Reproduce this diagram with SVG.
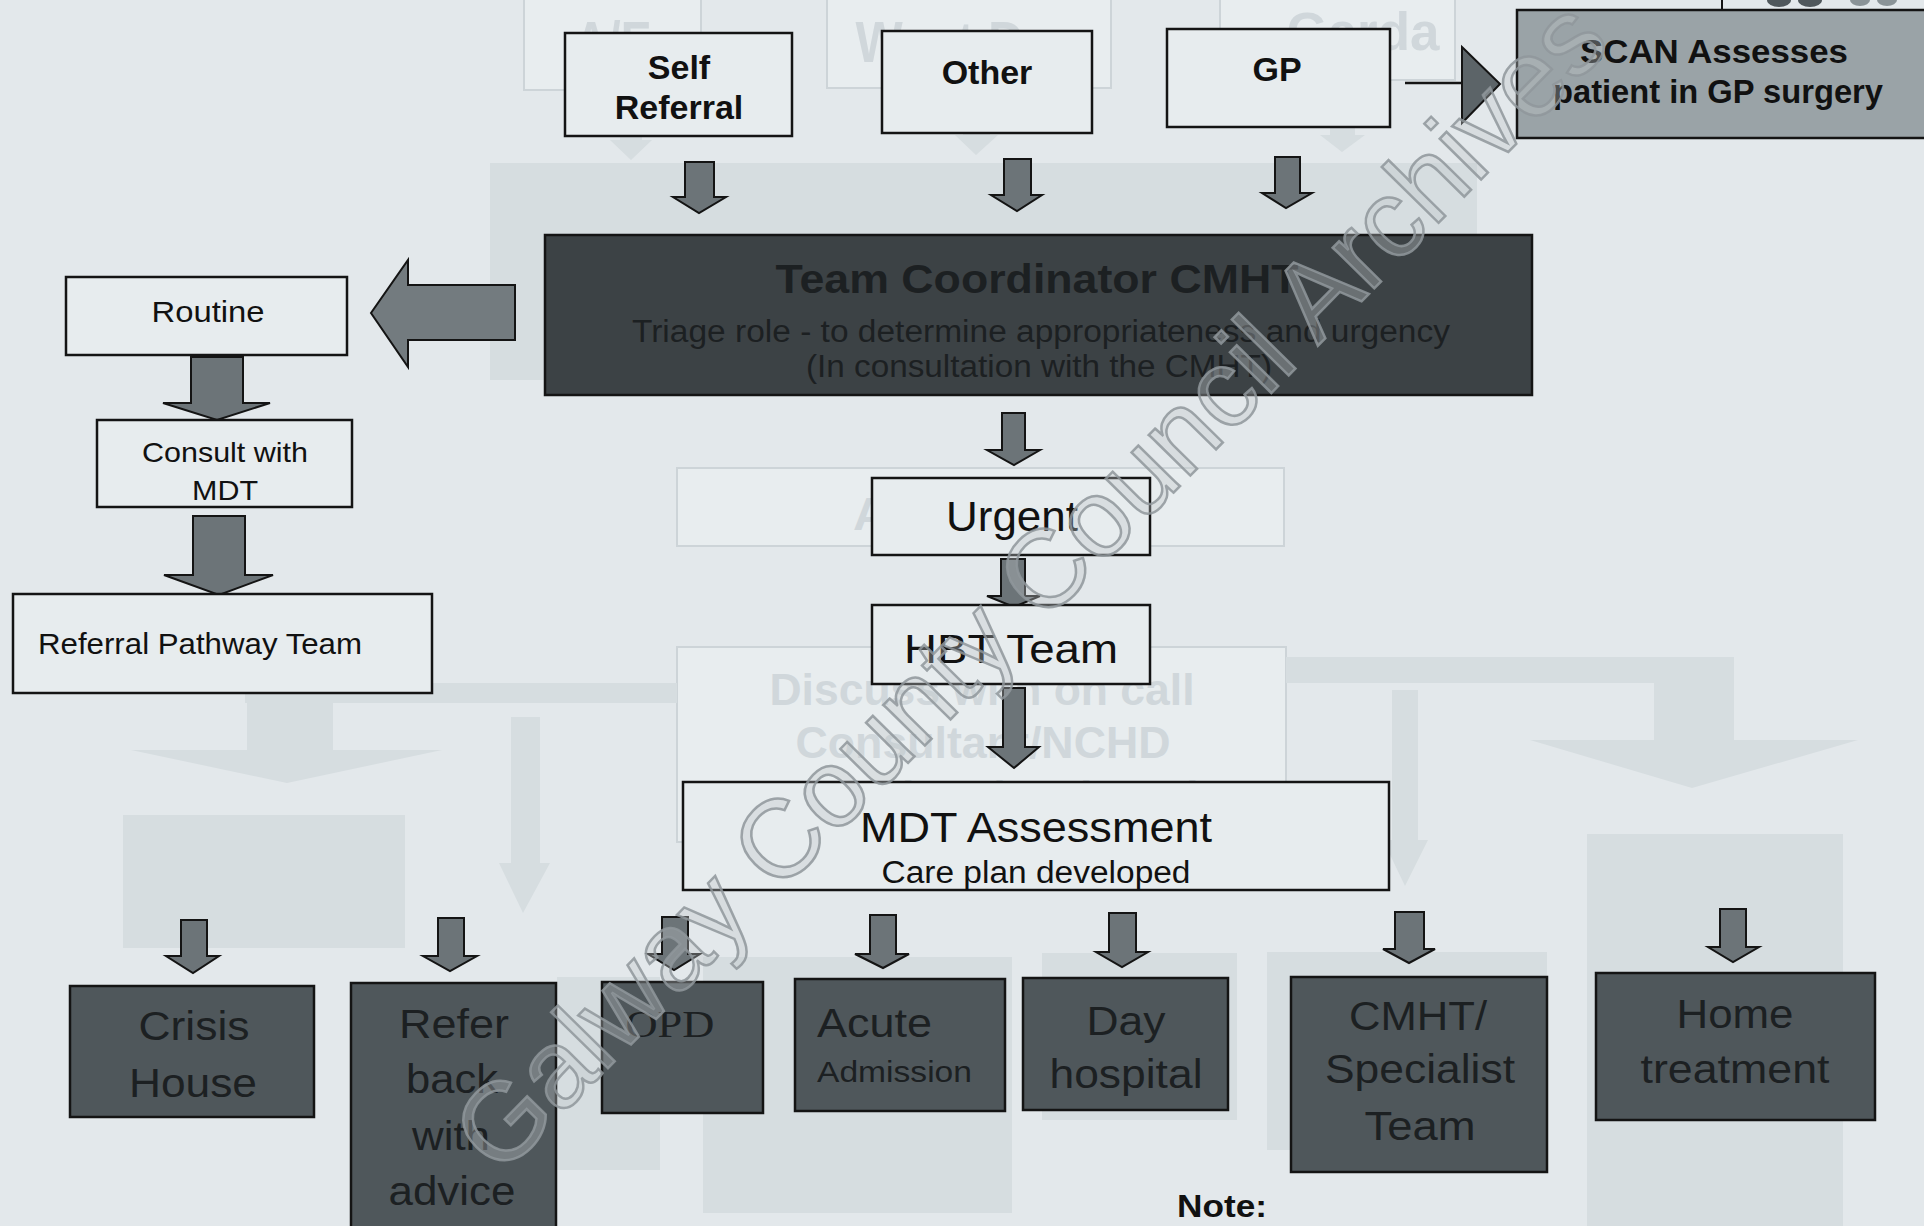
<svg xmlns="http://www.w3.org/2000/svg" width="1924" height="1226" viewBox="0 0 1924 1226">
<style>
.ghost{fill:#d6dde0}
.gbox{fill:#e8edef;stroke:#cdd4d8;stroke-width:2}
.gt{font-family:"Liberation Sans",Arial,sans-serif;font-weight:bold;fill:#d0d7db;text-anchor:middle}
.box{fill:#e7ecee;stroke:#141414;stroke-width:2.5}
.dark{fill:#4f575b;stroke:#141414;stroke-width:2.5}
.team{fill:#3c4245;stroke:#141414;stroke-width:2.5}
.scan{fill:#9aa3a7;stroke:#141414;stroke-width:2.5}
.arr{fill:#6c7478;stroke:#141414;stroke-width:2}
.t{font-family:"Liberation Sans",Arial,sans-serif;fill:#111;text-anchor:middle}
.b{font-weight:bold}
.dk{fill:#1c2022}
.wm{font-family:"Liberation Sans",Arial,sans-serif;font-size:110px;fill:#bfc6c9;fill-opacity:0.35;stroke:#8f979b;stroke-width:2.5;stroke-opacity:0.85}
</style>
<rect x="0" y="0" width="1924" height="1226" fill="#e3e8eb"/>

<g id="background-ghost">
  <rect class="ghost" x="490" y="163" width="987" height="217"/>
  <rect class="gbox" x="524" y="-4" width="177" height="94"/>
  <rect class="gbox" x="827" y="-4" width="284" height="92"/>
  <rect class="gbox" x="1220" y="-4" width="235" height="84"/>
  <text class="gt" x="613" y="62" font-size="58" textLength="77" lengthAdjust="spacingAndGlyphs">A/E</text>
  <text class="gt" x="969" y="62" font-size="58" textLength="227" lengthAdjust="spacingAndGlyphs">West Doc</text>
  <text class="gt" x="1363" y="50" font-size="54" textLength="153" lengthAdjust="spacingAndGlyphs">Garda</text>
  <polygon class="ghost" points="620,92 642,92 642,140 652,140 631,160 610,140 620,140"/>
  <polygon class="ghost" points="963,90 990,90 990,135 998,135 976,155 955,135 963,135"/>
  <polygon class="ghost" points="1330,84 1355,84 1355,135 1365,135 1342,152 1320,135 1330,135"/>
  <rect class="gbox" x="677" y="468" width="607" height="78"/>
  <text class="gt" x="997" y="530" font-size="46" textLength="288" lengthAdjust="spacingAndGlyphs">Assessment</text>
  <rect class="gbox" x="677" y="647" width="609" height="195"/>
  <text class="gt" x="982" y="705" font-size="44" textLength="425" lengthAdjust="spacingAndGlyphs">Discuss with on call</text>
  <text class="gt" x="983" y="758" font-size="44" textLength="375" lengthAdjust="spacingAndGlyphs">Consultant/NCHD</text>
  <text class="gt" x="981" y="812" font-size="44" textLength="435" lengthAdjust="spacingAndGlyphs">Care plan developed</text>
  <rect class="ghost" x="245" y="683" width="432" height="20"/>
  <polygon class="ghost" points="247,703 333,703 333,750 442,750 287,783 131,750 247,750"/>
  <polygon class="ghost" points="511,717 540,717 540,863 550,863 523,913 499,863 511,863"/>
  <rect class="ghost" x="1286" y="657" width="448" height="26"/>
  <polygon class="ghost" points="1654,683 1734,683 1734,740 1858,740 1692,788 1530,740 1654,740"/>
  <polygon class="ghost" points="1392,690 1418,690 1418,840 1428,840 1405,886 1383,840 1392,840"/>
  <rect class="ghost" x="123" y="815" width="282" height="133"/>
  <rect class="ghost" x="557" y="977" width="103" height="193"/>
  <rect class="ghost" x="703" y="957" width="309" height="256"/>
  <rect class="ghost" x="1042" y="953" width="195" height="167"/>
  <rect class="ghost" x="1267" y="952" width="280" height="198"/>
  <rect class="ghost" x="1587" y="834" width="256" height="392"/>
  <line x1="1722" y1="0" x2="1722" y2="10" stroke="#141414" stroke-width="2"/>
  <ellipse cx="1779" cy="0" rx="12" ry="7" fill="#50585c"/>
  <ellipse cx="1810" cy="0" rx="12" ry="7" fill="#50585c"/>
  <ellipse cx="1860" cy="0" rx="10" ry="6" fill="#8a9397"/>
  <ellipse cx="1887" cy="0" rx="10" ry="6" fill="#8a9397"/>
</g>

<g id="connectors">
  <polygon class="arr" points="685,162 714,162 714,197 726,197 699,213 673,197 685,197"/>
  <polygon class="arr" points="1004,159 1031,159 1031,195 1042,195 1017,211 991,195 1004,195"/>
  <polygon class="arr" points="1275,157 1300,157 1300,193 1312,193 1286,208 1262,193 1275,193"/>
  <line x1="1405" y1="83" x2="1462" y2="83" stroke="#141414" stroke-width="2.5"/>
  <polygon points="1462,47 1500,84 1462,123" fill="#5c6468" stroke="#141414" stroke-width="2"/>
  <polygon class="arr" points="515,285 408,285 408,260 371,313 408,367 408,340 515,340" style="fill:#737b7f"/>
  <polygon class="arr" points="191,357 243,357 243,403 270,403 217,420 163,403 191,403"/>
  <polygon class="arr" points="193,516 245,516 245,575 273,575 219,595 164,575 193,575"/>
  <polygon class="arr" points="1002,413 1025,413 1025,450 1040,450 1014,465 987,450 1002,450"/>
  <polygon class="arr" points="1001,559 1025,559 1025,596 1040,596 1014,607 987,596 1001,596"/>
  <polygon class="arr" points="1003,688 1025,688 1025,747 1039,747 1014,768 988,747 1003,747"/>
  <polygon class="arr" points="181,920 207,920 207,956 219,956 193,973 166,956 181,956"/>
  <polygon class="arr" points="438,918 464,918 464,956 477,956 450,971 423,956 438,956"/>
  <polygon class="arr" points="662,917 688,917 688,954 700,954 674,970 648,954 662,954"/>
  <polygon class="arr" points="870,915 896,915 896,954 909,954 883,968 855,954 870,954"/>
  <polygon class="arr" points="1109,913 1136,913 1136,952 1148,952 1122,967 1096,952 1109,952"/>
  <polygon class="arr" points="1395,912 1424,912 1424,949 1435,949 1409,963 1383,949 1395,949"/>
  <polygon class="arr" points="1720,909 1746,909 1746,947 1759,947 1733,962 1708,947 1720,947"/>
</g>

<g id="self-referral">
  <rect class="box" x="565" y="33" width="227" height="103"/>
  <text class="t b" x="679" y="79" font-size="34">Self</text>
  <text class="t b" x="679" y="119" font-size="34">Referral</text>
</g>
<g id="other">
  <rect class="box" x="882" y="31" width="210" height="102"/>
  <text class="t b" x="987" y="84" font-size="34">Other</text>
</g>
<g id="gp">
  <rect class="box" x="1167" y="29" width="223" height="98"/>
  <text class="t b" x="1277" y="81" font-size="34">GP</text>
</g>
<g id="scan">
  <rect class="scan" x="1517" y="10" width="410" height="128"/>
  <text class="t b" x="1714" y="63" font-size="34" textLength="268" lengthAdjust="spacingAndGlyphs">SCAN Assesses</text>
  <text class="t b" x="1718" y="103" font-size="34" textLength="330" lengthAdjust="spacingAndGlyphs">patient in GP surgery</text>
</g>
<g id="team-coordinator">
  <rect class="team" x="545" y="235" width="987" height="160"/>
  <text class="t b dk" x="1037" y="293" font-size="41" textLength="523" lengthAdjust="spacingAndGlyphs">Team Coordinator CMHT</text>
  <text class="t dk" x="1041" y="342" font-size="31" textLength="818" lengthAdjust="spacingAndGlyphs">Triage role - to determine appropriateness and urgency</text>
  <text class="t dk" x="1039" y="377" font-size="31" textLength="466" lengthAdjust="spacingAndGlyphs">(In consultation with the CMHT)</text>
</g>
<g id="routine">
  <rect class="box" x="66" y="277" width="281" height="78"/>
  <text class="t" x="208" y="322" font-size="30" textLength="113" lengthAdjust="spacingAndGlyphs">Routine</text>
</g>
<g id="consult-mdt">
  <rect class="box" x="97" y="420" width="255" height="87"/>
  <text class="t" x="225" y="462" font-size="28" textLength="166" lengthAdjust="spacingAndGlyphs">Consult with</text>
  <text class="t" x="225" y="500" font-size="28" textLength="66" lengthAdjust="spacingAndGlyphs">MDT</text>
</g>
<g id="referral-pathway">
  <rect class="box" x="13" y="594" width="419" height="99"/>
  <text class="t" x="38" y="654" font-size="29" style="text-anchor:start" textLength="324" lengthAdjust="spacingAndGlyphs">Referral Pathway Team</text>
</g>
<g id="urgent">
  <rect class="box" x="872" y="478" width="278" height="77"/>
  <text class="t" x="1012" y="531" font-size="42" textLength="132" lengthAdjust="spacingAndGlyphs">Urgent</text>
</g>
<g id="hbt-team">
  <rect class="box" x="872" y="605" width="278" height="79"/>
  <text class="t" x="1011" y="663" font-size="41" textLength="214" lengthAdjust="spacingAndGlyphs">HBT Team</text>
</g>
<g id="mdt-assessment">
  <rect class="box" x="683" y="782" width="706" height="108"/>
  <text class="t" x="1036" y="842" font-size="42" textLength="352" lengthAdjust="spacingAndGlyphs">MDT Assessment</text>
  <text class="t" x="1036" y="883" font-size="31" textLength="309" lengthAdjust="spacingAndGlyphs">Care plan developed</text>
</g>
<g id="crisis-house">
  <rect class="dark" x="70" y="986" width="244" height="131"/>
  <text class="t dk" x="194" y="1040" font-size="40" textLength="111" lengthAdjust="spacingAndGlyphs">Crisis</text>
  <text class="t dk" x="193" y="1097" font-size="40" textLength="128" lengthAdjust="spacingAndGlyphs">House</text>
</g>
<g id="refer-back">
  <rect class="dark" x="351" y="983" width="205" height="260"/>
  <text class="t dk" x="454" y="1038" font-size="40" textLength="110" lengthAdjust="spacingAndGlyphs">Refer</text>
  <text class="t dk" x="452" y="1093" font-size="40" textLength="92" lengthAdjust="spacingAndGlyphs">back</text>
  <text class="t dk" x="451" y="1150" font-size="40" textLength="78" lengthAdjust="spacingAndGlyphs">with</text>
  <text class="t dk" x="452" y="1205" font-size="40" textLength="127" lengthAdjust="spacingAndGlyphs">advice</text>
</g>
<g id="opd">
  <rect class="dark" x="602" y="982" width="161" height="131"/>
  <text class="dk" x="670" y="1037" font-size="37" style="font-family:'Liberation Serif','Times New Roman',serif;text-anchor:middle" textLength="89" lengthAdjust="spacingAndGlyphs">OPD</text>
</g>
<g id="acute-admission">
  <rect class="dark" x="795" y="979" width="210" height="132"/>
  <text class="t dk" x="817" y="1037" font-size="40" style="text-anchor:start" textLength="115" lengthAdjust="spacingAndGlyphs">Acute</text>
  <text class="t dk" x="817" y="1082" font-size="29" style="text-anchor:start" textLength="155" lengthAdjust="spacingAndGlyphs">Admission</text>
</g>
<g id="day-hospital">
  <rect class="dark" x="1023" y="978" width="205" height="132"/>
  <text class="t dk" x="1126" y="1035" font-size="40" textLength="79" lengthAdjust="spacingAndGlyphs">Day</text>
  <text class="t dk" x="1126" y="1088" font-size="40" textLength="153" lengthAdjust="spacingAndGlyphs">hospital</text>
</g>
<g id="cmht-specialist">
  <rect class="dark" x="1291" y="977" width="256" height="195"/>
  <text class="t dk" x="1418" y="1030" font-size="40" textLength="138" lengthAdjust="spacingAndGlyphs">CMHT/</text>
  <text class="t dk" x="1420" y="1083" font-size="40" textLength="190" lengthAdjust="spacingAndGlyphs">Specialist</text>
  <text class="t dk" x="1420" y="1140" font-size="40" textLength="111" lengthAdjust="spacingAndGlyphs">Team</text>
</g>
<g id="home-treatment">
  <rect class="dark" x="1596" y="973" width="279" height="147"/>
  <text class="t dk" x="1735" y="1028" font-size="40" textLength="117" lengthAdjust="spacingAndGlyphs">Home</text>
  <text class="t dk" x="1735" y="1083" font-size="40" textLength="189" lengthAdjust="spacingAndGlyphs">treatment</text>
</g>
<g id="note">
  <text class="t b" x="1177" y="1217" font-size="32" style="text-anchor:start" textLength="90" lengthAdjust="spacingAndGlyphs">Note:</text>
</g>

<g id="watermark">
  <text class="wm" transform="translate(500,1178) rotate(-45.5)" x="0" y="0" textLength="1588" lengthAdjust="spacingAndGlyphs">Galway County Council Archives</text>
</g>
</svg>
